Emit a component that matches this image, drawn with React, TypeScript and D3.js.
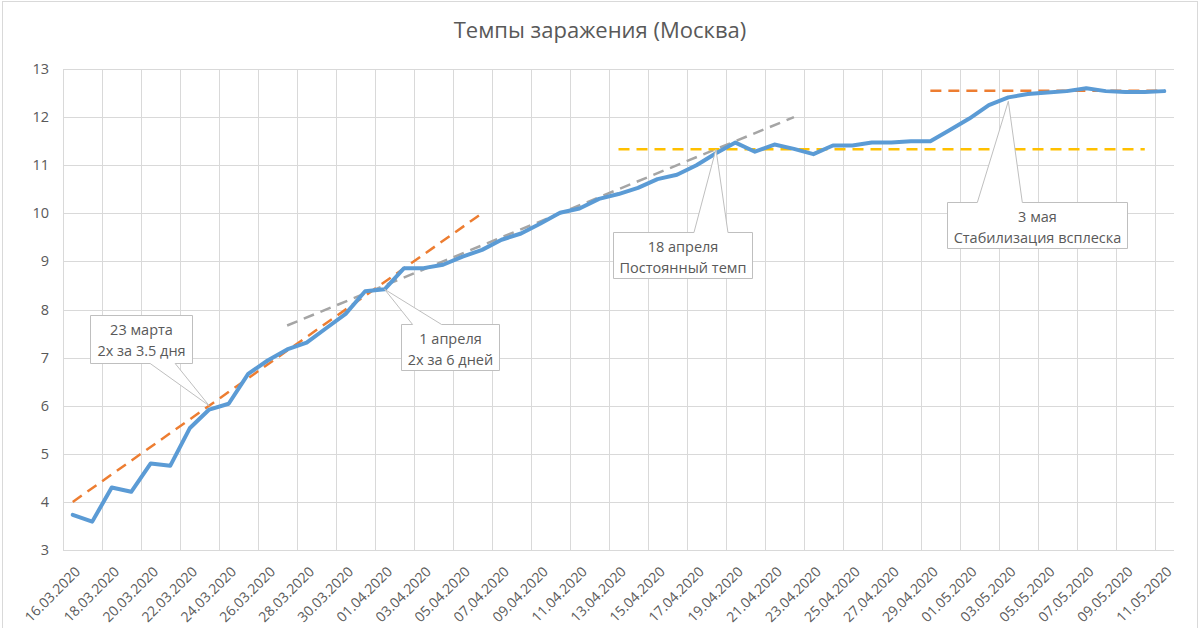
import React from "react";
import * as d3 from "d3";

const categories: string[] = [
  "16.03.2020","17.03.2020","18.03.2020","19.03.2020","20.03.2020","21.03.2020","22.03.2020","23.03.2020",
  "24.03.2020","25.03.2020","26.03.2020","27.03.2020","28.03.2020","29.03.2020","30.03.2020","31.03.2020",
  "01.04.2020","02.04.2020","03.04.2020","04.04.2020","05.04.2020","06.04.2020","07.04.2020","08.04.2020",
  "09.04.2020","10.04.2020","11.04.2020","12.04.2020","13.04.2020","14.04.2020","15.04.2020","16.04.2020",
  "17.04.2020","18.04.2020","19.04.2020","20.04.2020","21.04.2020","22.04.2020","23.04.2020","24.04.2020",
  "25.04.2020","26.04.2020","27.04.2020","28.04.2020","29.04.2020","30.04.2020","01.05.2020","02.05.2020",
  "03.05.2020","04.05.2020","05.05.2020","06.05.2020","07.05.2020","08.05.2020","09.05.2020","10.05.2020",
  "11.05.2020",
];

const moscowValues: number[] = [
  3.73, 3.59, 4.30, 4.21, 4.80, 4.75, 5.53, 5.92, 6.04, 6.66, 6.94, 7.17, 7.31, 7.61, 7.91, 8.38,
  8.42, 8.86, 8.86, 8.93, 9.10, 9.24, 9.45, 9.58, 9.79, 10.01, 10.10, 10.30, 10.40, 10.53, 10.71, 10.80,
  11.00, 11.25, 11.47, 11.28, 11.43, 11.34, 11.23, 11.41, 11.41, 11.47, 11.47, 11.50, 11.50, 11.73,
  11.97, 12.25, 12.41, 12.48, 12.51, 12.54, 12.60, 12.54, 12.52, 12.52, 12.54,
];

const yTicks: number[] = [3, 4, 5, 6, 7, 8, 9, 10, 11, 12, 13];

// trend lines: [category index, value]
const trendFast: [number, number][] = [[0, 4.0], [21, 10.0]];
const trendSlow: [number, number][] = [[11, 7.667], [37, 12.0]];
const trendConst: [number, number][] = [[28, 11.33], [55, 11.33]];
const trendPeak: [number, number][] = [[44, 12.55], [56, 12.55]];

const calloutLines: string[][] = [
  ["23 марта", "2x за 3.5 дня"],
  ["1 апреля", "2x за 6 дней"],
  ["18 апреля", "Постоянный темп"],
  ["3 мая", "Стабилизация всплеска"],
];
const calloutTips: [number, number][] = [[7, 6.0], [16, 8.42], [33, 11.33], [48, 12.33]];

type Layout = { x0: number; x1: number; y0: number; y1: number; side: "top" | "bottom"; b0: number; b1: number };
const calloutLayout: Layout[] = [
  { x0: -119, x1: -17, y0: -91, y1: -43, side: "bottom", b0: -59, b1: -34 },
  { x0: 16, x1: 114, y0: 35, y1: 81, side: "top", b0: 28, b1: 57 },
  { x0: -103, x1: 36, y0: 83, y1: 129, side: "top", b0: -22, b1: 12 },
  { x0: -61, x1: 119, y0: 101, y1: 147, side: "top", b0: -31, b1: 14 },
];

const W = 1200;
const H = 628;
const PLOT = { left: 63, right: 1174, top: 69, bottom: 550 };
const FONT = "'Open Sans', 'Noto Sans', sans-serif";
const TEXT = "#595959";
const GRID = "#D9D9D9";

export default function App() {
  const x = d3.scaleBand<string>().domain(categories).range([PLOT.left, PLOT.right]).padding(0);
  const bw = x.bandwidth();
  const cx = (i: number) => (x(categories[i]) as number) + bw / 2;
  const y = d3.scaleLinear().domain([3, 13]).range([PLOT.bottom, PLOT.top]);

  const line = d3
    .line<number>()
    .x((_, i) => cx(i))
    .y((v) => y(v));

  const tline = d3
    .line<[number, number]>()
    .x((p) => cx(p[0]))
    .y((p) => y(p[1]));

  const vGrid = categories.map((c, i) => i).filter((i) => i % 2 === 0);

  return (
    <svg
      width={W}
      height={H}
      style={{ position: "absolute", left: 0, top: 0, display: "block", background: "#fff" }}
      fontFamily={FONT}
    >
      <rect x={0} y={0} width={W} height={H} fill="#fff" />
      <rect x={2.5} y={1.5} width={1195} height={640} fill="none" stroke={GRID} strokeWidth={1} />

      <text x={600} y={38} textAnchor="middle" fontSize={22} fill={TEXT}>
        Темпы заражения (Москва)
      </text>

      {/* horizontal gridlines */}
      {yTicks.map((t) => (
        <line key={"h" + t} x1={PLOT.left} x2={PLOT.right} y1={Math.round(y(t)) + 0.5} y2={Math.round(y(t)) + 0.5} stroke={GRID} strokeWidth={1} />
      ))}
      {/* vertical gridlines */}
      {vGrid.map((i) => {
        const xx = Math.round(x(categories[i]) as number) + 0.5;
        return <line key={"v" + i} x1={xx} x2={xx} y1={PLOT.top} y2={PLOT.bottom} stroke={GRID} strokeWidth={1} />;
      })}

      {/* y tick labels */}
      {yTicks.map((t) => (
        <text key={"yl" + t} x={49} y={y(t)} dy="0.35em" textAnchor="end" fontSize={14.5} fill={TEXT}>
          {t}
        </text>
      ))}

      {/* x tick labels */}
      {vGrid.map((i) => {
        const ax = cx(i) + 5;
        const ay = 569;
        return (
          <text
            key={"xl" + i}
            x={ax}
            y={ay}
            dy="0.35em"
            textAnchor="end"
            fontSize={14}
            fill={TEXT}
            transform={`rotate(-45 ${ax} ${ay})`}
          >
            {categories[i]}
          </text>
        );
      })}

      {/* trend lines */}
      <path d={tline(trendFast) as string} fill="none" stroke="#ED7D31" strokeWidth={2.5} strokeDasharray="11 7" />
      <path d={tline(trendSlow) as string} fill="none" stroke="#A5A5A5" strokeWidth={2.5} strokeDasharray="11 7" />
      <path d={tline(trendConst) as string} fill="none" stroke="#FFC000" strokeWidth={2.5} strokeDasharray="11 7" />
      <path d={tline(trendPeak) as string} fill="none" stroke="#ED7D31" strokeWidth={2.5} strokeDasharray="11 7" />

      {/* main series */}
      <path d={line(moscowValues) as string} fill="none" stroke="#5B9BD5" strokeWidth={4} strokeLinejoin="round" strokeLinecap="round" />

      {/* callouts */}
      {calloutLines.map((lines, k) => {
        const tx = cx(calloutTips[k][0]);
        const ty = y(calloutTips[k][1]);
        const L = calloutLayout[k];
        const x0 = Math.round(tx + L.x0) + 0.5;
        const x1 = Math.round(tx + L.x1) + 0.5;
        const y0 = Math.round(ty + L.y0) + 0.5;
        const y1 = Math.round(ty + L.y1) + 0.5;
        const b0 = tx + L.b0;
        const b1 = tx + L.b1;
        const d =
          L.side === "bottom"
            ? `M${x0},${y0}H${x1}V${y1}H${b1}L${tx},${ty}L${b0},${y1}H${x0}Z`
            : `M${x0},${y0}H${b0}L${tx},${ty}L${b1},${y0}H${x1}V${y1}H${x0}Z`;
        const mid = (x0 + x1) / 2;
        return (
          <g key={"c" + k}>
            <path d={d} fill="#fff" stroke="#BFBFBF" strokeWidth={1} />
            {lines.map((s, j) => (
              <text key={j} x={mid} y={y0 + 19 + j * 21} textAnchor="middle" fontSize={14.5} fill={TEXT}>
                {s}
              </text>
            ))}
          </g>
        );
      })}
    </svg>
  );
}
